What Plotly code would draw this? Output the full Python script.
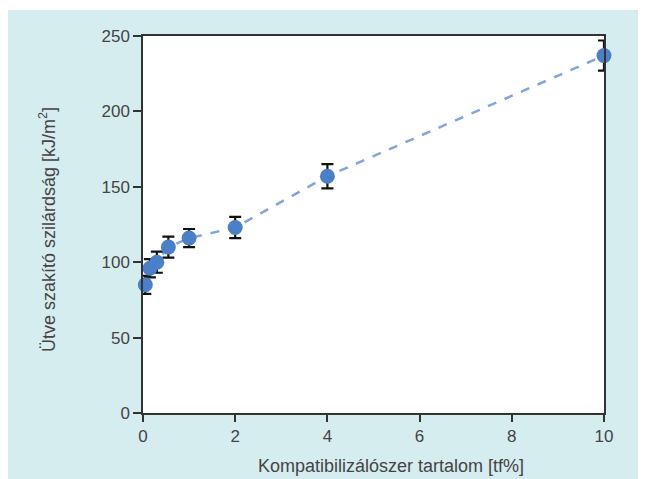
import plotly.graph_objects as go

content = [0.05, 0.15, 0.3, 0.55, 1, 2, 4, 10]
strength = [85, 96, 100, 110, 116, 123, 157, 237]
err = [6, 6, 7, 7, 6, 7, 8, 10]

x_ticks = [0, 2, 4, 6, 8, 10]
y_ticks = [0, 50, 100, 150, 200, 250]

# page has an 8px body margin, so the figure is placed at (8, 8)
W, H = 646, 471
L, R, T, B = 135, 50, 28, 66
pw, ph = W - L - R, H - T - B

fig = go.Figure()
fig.add_trace(go.Scatter(
    x=content, y=strength, mode="lines",
    line=dict(color="#80a4de", width=2.5, dash="dash"),
    hoverinfo="skip", showlegend=False, cliponaxis=False))
fig.add_trace(go.Scatter(
    x=content, y=strength, mode="markers",
    marker=dict(color="#4a80c8", size=15),
    error_y=dict(type="data", array=err, color="#111111", thickness=2.2, width=6),
    showlegend=False, cliponaxis=False))

tick_font = dict(family="Liberation Sans, Arial, sans-serif", size=17, color="#444444")
title_font = dict(family="Liberation Sans, Arial, sans-serif", size=18, color="#444444")

fig.update_layout(
    width=W, height=H,
    margin=dict(l=L, r=R, t=T, b=B),
    paper_bgcolor="white", plot_bgcolor="white",
    font=tick_font,
    shapes=[
        dict(type="rect", xref="paper", yref="paper", layer="below",
             x0=-(L + 2) / pw, x1=(W - L + 2) / pw,
             y0=-(B + 5) / ph, y1=(H - B - 2) / ph,
             fillcolor="#d6edf0", line=dict(width=0)),
        dict(type="rect", xref="paper", yref="paper", layer="below",
             x0=0, x1=1, y0=0, y1=1,
             fillcolor="white", line=dict(width=0)),
    ],
    annotations=[
        dict(text="Kompatibilizálószer tartalom [tf%]", xref="paper", yref="paper",
             x=(383 - L) / pw, y=-(458 - (H - B)) / ph, showarrow=False,
             xanchor="center", yanchor="middle", font=title_font),
        dict(text="Ütve szakító szilárdság [kJ/m<sup>2</sup>]", xref="paper", yref="paper",
             x=-(L - 39) / pw, y=(H - B - 222) / ph, showarrow=False, textangle=-90,
             xanchor="center", yanchor="middle", font=title_font),
    ],
)
fig.update_xaxes(range=[0, 10], tickvals=x_ticks, showgrid=False, zeroline=False,
                 showline=True, linecolor="#333333", linewidth=1.5, mirror=True,
                 ticks="outside", ticklen=7, tickwidth=1.5, tickcolor="#333333")
fig.update_yaxes(range=[0, 250], tickvals=y_ticks, showgrid=False, zeroline=False,
                 showline=True, linecolor="#333333", linewidth=1.5, mirror=True,
                 ticks="outside", ticklen=8, tickwidth=1.5, tickcolor="#333333")

fig.write_html("out.html")
